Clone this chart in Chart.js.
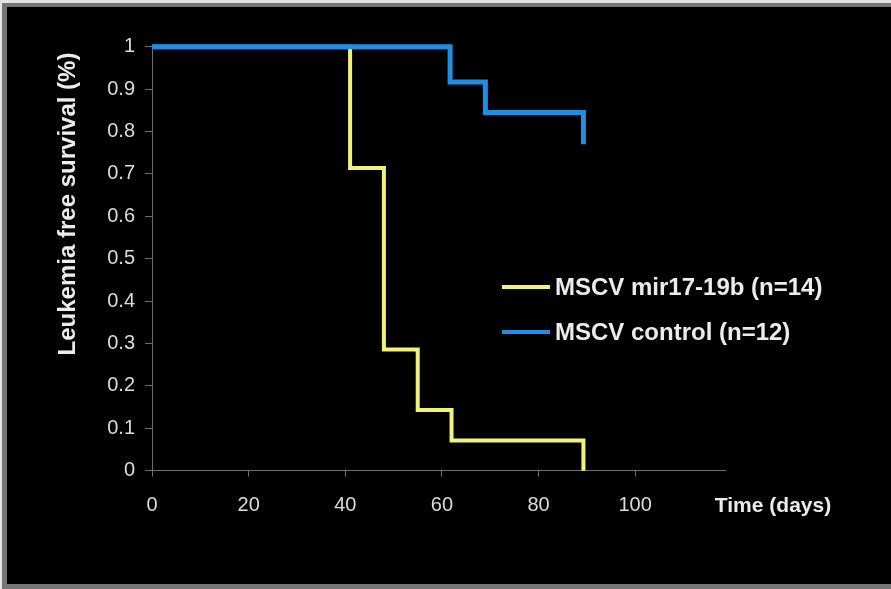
<!DOCTYPE html>
<html>
<head>
<meta charset="utf-8">
<script src="https://cdn.jsdelivr.net/npm/chart.js@4/dist/chart.umd.min.js"></script>
<style>
  html, body { margin: 0; padding: 0; background: #e4e4e4; }
  #frame { position: absolute; left: 2px; top: 3px; width: 889px; height: 586px; background: #767676; }
  #myChart { position: absolute; left: 7px; top: 7px; background: #000; }
</style>
</head>
<body>
<div id="frame"></div>
<canvas id="myChart" width="884" height="577"></canvas>
<script>
// survival curves (time in days, fraction surviving)
const mirDays = [0, 41, 48, 55, 62, 89.3];
const mirSurvival = [1, 0.714, 0.286, 0.143, 0.071, 0];
const ctrlDays = [0, 61.7, 69, 89.3];
const ctrlSurvival = [1, 0.917, 0.845, 0.77];
const seriesLabels = ['MSCV mir17-19b (n=14)', 'MSCV control (n=12)'];
const xTicks = [0, 20, 40, 60, 80, 100];
const yTicks = [0, 0.1, 0.2, 0.3, 0.4, 0.5, 0.6, 0.7, 0.8, 0.9, 1];

const FONT = 'Arial, "Liberation Sans", sans-serif';
const yellow = '#f2f27a';
const blue = '#1f8fe6';

const toPoints = (xs, ys) => xs.map((x, i) => ({ x: x, y: ys[i] }));

// draws legend, y title and the "Time (days)" label
const extraText = {
    id: 'extraText',
    afterDraw(chart) {
        const ctx = chart.ctx;
        const x = chart.scales.x;
        ctx.save();
        ctx.fillStyle = '#ececec';

        // legend
        ctx.font = 'bold 24px ' + FONT;
        ctx.textBaseline = 'middle';
        ctx.textAlign = 'left';
        const rows = [[yellow, 280], [blue, 325]];
        chart.data.datasets.forEach((ds, i) => {
            ctx.strokeStyle = ds.borderColor;
            ctx.lineWidth = 4;
            ctx.beginPath();
            ctx.moveTo(495, rows[i][1]);
            ctx.lineTo(543, rows[i][1]);
            ctx.stroke();
            ctx.fillText(ds.label, 548, rows[i][1] + 1);
        });

        // x label next to the last tick
        ctx.font = 'bold 21px ' + FONT;
        ctx.textAlign = 'center';
        ctx.fillText('Time (days)', 766, x.bottom - 113 + 35 + 0);

        // y title
        ctx.translate(61, 197);
        ctx.rotate(-Math.PI / 2);
        ctx.font = 'bold 24px ' + FONT;
        ctx.fillText('Leukemia free survival (%)', 0, 0);
        ctx.restore();
    }
};

const data = {
    datasets: [{
        label: seriesLabels[0],
        data: toPoints(mirDays, mirSurvival),
        borderColor: yellow,
        borderWidth: 4,
        order: 2
    }, {
        label: seriesLabels[1],
        data: toPoints(ctrlDays, ctrlSurvival),
        borderColor: blue,
        borderWidth: 5,
        order: 1
    }]
};

const config = {
    type: 'line',
    data,
    options: {
        responsive: false,
        animation: false,
        devicePixelRatio: 1,
        layout: { padding: { left: 0, top: 39.7, right: 166, bottom: 0 } },
        elements: {
            line: { stepped: 'before', fill: false, tension: 0, borderJoinStyle: 'miter', borderCapStyle: 'butt' },
            point: { radius: 0 }
        },
        datasets: { line: { clip: false } },
        plugins: {
            legend: { display: false },
            tooltip: { enabled: false }
        },
        scales: {
            x: {
                type: 'linear',
                min: 0,
                max: 118.6,
                afterFit: s => { s.height = 113.3; },
                afterBuildTicks: s => { s.ticks = xTicks.map(v => ({ value: v })); },
                border: { color: '#6e6e6e', width: 1 },
                grid: { drawOnChartArea: false, drawTicks: true, tickLength: 6, color: '#6e6e6e' },
                ticks: { color: '#dcdcdc', font: { family: FONT, size: 20 }, padding: 17, maxRotation: 0 }
            },
            y: {
                min: 0,
                max: 1,
                afterFit: s => { s.width = 145; },
                afterBuildTicks: s => { s.ticks = yTicks.map(v => ({ value: v })); },
                border: { color: '#6e6e6e', width: 1 },
                grid: { drawOnChartArea: false, drawTicks: true, tickLength: 7, color: '#6e6e6e' },
                ticks: {
                    color: '#dcdcdc',
                    font: { family: FONT, size: 20 },
                    padding: 10,
                    callback: v => (v === 0 || v === 1) ? String(v) : v.toFixed(1)
                }
            }
        }
    },
    plugins: [extraText]
};

const myChart = new Chart(document.getElementById('myChart'), config);
</script>
</body>
</html>
